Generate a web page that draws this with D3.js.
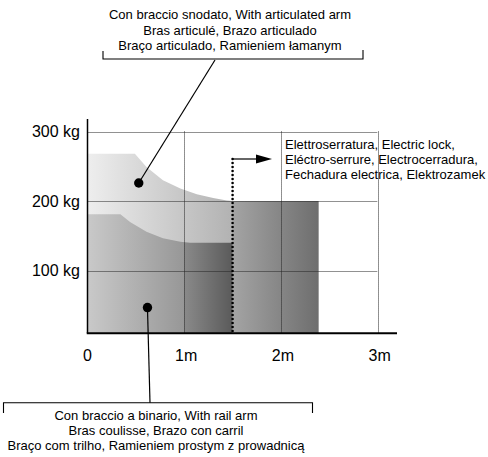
<!DOCTYPE html>
<html>
<head>
<meta charset="utf-8">
<script src="https://cdn.jsdelivr.net/npm/d3@7/dist/d3.min.js"></script>
<style>
  html, body { margin: 0; padding: 0; background: #fff; }
  svg { display: block; }
  text { font-family: "Liberation Sans", Arial, sans-serif; fill: #000; }
</style>
</head>
<body>
<svg id="chart" width="488" height="457"></svg>
<script>
// ---- data ----
const xTicks = [0, 1, 2, 3];
const xTickLabels = ["0", "1m", "2m", "3m"];
const yTicks = [100, 200, 300];
const yTickLabels = ["100 kg", "200 kg", "300 kg"];

// articulated arm envelope (metres, kg)
const articulatedX  = [0, 0.49, 0.61, 0.78, 0.96, 1.13, 1.30, 1.44, 1.5];
const articulatedKg = [268, 268, 249, 230, 218, 210, 204.5, 201, 200];

// rail arm envelope (metres, kg)
const railX  = [0, 0.34, 0.44, 0.61, 0.78, 0.96, 1.06, 1.5];
const railKg = [181, 181, 170, 156, 146.5, 141.7, 140.2, 140];

// electric lock zone
const lockX  = [1.5, 2.39];
const lockKg = [200, 200];

// annotation anchor points (metres, kg)
const articulatedDot = [0.53, 226];
const railDot = [0.62, 47];

const topLabel = ["Con braccio snodato, With articulated arm",
                  "Bras articulé, Brazo articulado",
                  "Braço articulado, Ramieniem łamanym"];
const bottomLabel = ["Con braccio a binario, With rail arm",
                     "Bras coulisse, Brazo con carril",
                     "Braço com trilho, Ramieniem prostym z prowadnicą"];
const lockLabel = ["Elettroserratura, Electric lock,",
                   "Eléctro-serrure, Electrocerradura,",
                   "Fechadura electrica, Elektrozamek"];

// ---- scales ----
const x = d3.scaleLinear().domain([0, 3.2]).range([87.5, 397]);
const y = d3.scaleLinear().domain([10, 318]).range([333.3, 119]);
const yBase = y.domain()[0];

const svg = d3.select("#chart");
const defs = svg.append("defs");

function hGrad(id, stops) {
  const g = defs.append("linearGradient").attr("id", id)
    .attr("x1", "0%").attr("x2", "100%").attr("y1", "0%").attr("y2", "0%");
  stops.forEach(s => g.append("stop").attr("offset", s[0]).attr("stop-color", s[1]));
}
hGrad("gLight", [["0%", "#eeeeee"], ["100%", "#b2b2b2"]]);
hGrad("gRail", [["0%", "#c9c9c9"], ["66.6%", "#979797"], ["66.6%", "#8a8a8a"], ["100%", "#5a5a5a"]]);
hGrad("gLock", [["0%", "#a4a4a4"], ["100%", "#6e6e6e"]]);

const area = d3.area()
  .x(d => x(d[0])).y0(y(yBase)).y1(d => y(d[1]))
  .curve(d3.curveLinear);

svg.append("path").datum(d3.zip(articulatedX, articulatedKg))
  .attr("d", area).attr("fill", "url(#gLight)");
svg.append("path").datum(d3.zip(railX, railKg))
  .attr("d", area).attr("fill", "url(#gRail)");
svg.append("path").datum(d3.zip(lockX, lockKg))
  .attr("d", area).attr("fill", "url(#gLock)");

// ---- grid ----
const grid = svg.append("g").attr("stroke", "#222").attr("stroke-width", 1)
  .attr("stroke-dasharray", "1,1").attr("fill", "none");
yTicks.forEach(v => grid.append("line")
  .attr("x1", x(0)).attr("x2", x(3)).attr("y1", Math.round(y(v)) + 0.5).attr("y2", Math.round(y(v)) + 0.5));
xTicks.slice(1).forEach(v => grid.append("line")
  .attr("x1", Math.round(x(v)) + 0.5).attr("x2", Math.round(x(v)) + 0.5).attr("y1", y(300)).attr("y2", y(yBase)));

// ---- axes ----
svg.append("line").attr("x1", x(0)).attr("x2", x(0)).attr("y1", y(318)).attr("y2", y(yBase))
  .attr("stroke", "#000").attr("stroke-width", 1.5);
svg.append("line").attr("x1", x(0) - 0.75).attr("x2", x(3.2)).attr("y1", y(yBase)).attr("y2", y(yBase))
  .attr("stroke", "#000").attr("stroke-width", 2);

svg.append("g").selectAll("text").data(yTicks).join("text")
  .attr("x", 80).attr("y", d => y(d)).attr("dy", "0.36em")
  .attr("text-anchor", "end").attr("font-size", 16)
  .text((d, i) => yTickLabels[i]);
svg.append("g").selectAll("text").data(xTicks).join("text")
  .attr("x", d => x(d) + (d === 0 ? 0 : 2)).attr("y", 361)
  .attr("text-anchor", "middle").attr("font-size", 16)
  .text((d, i) => xTickLabels[i]);

// ---- electric lock marker ----
svg.append("line").attr("x1", x(lockX[0])).attr("x2", x(lockX[0]))
  .attr("y1", 159).attr("y2", y(yBase))
  .attr("stroke", "#000").attr("stroke-width", 2.6)
  .attr("stroke-linecap", "round").attr("stroke-dasharray", "0,4");
svg.append("line").attr("x1", x(lockX[0])).attr("x2", 258)
  .attr("y1", 159).attr("y2", 159).attr("stroke", "#000").attr("stroke-width", 1.2);
svg.append("path").attr("d", "M256,154.5 L272,159 L256,163.5 Z").attr("fill", "#000");

svg.append("g").selectAll("text").data(lockLabel).join("text")
  .attr("x", 285).attr("y", (d, i) => 149.3 + i * 14.8)
  .attr("font-size", 13).text(d => d);

// ---- annotations ----
const ad = [x(articulatedDot[0]), y(articulatedDot[1])];
const rd = [x(railDot[0]), y(railDot[1])];

svg.append("line").attr("x1", 215).attr("y1", 60).attr("x2", ad[0]).attr("y2", ad[1])
  .attr("stroke", "#000").attr("stroke-width", 1.2);
svg.append("circle").attr("cx", ad[0]).attr("cy", ad[1]).attr("r", 4.7).attr("fill", "#000");

svg.append("path").attr("d", "M103,51 L103,59 L363,59 L363,50")
  .attr("fill", "none").attr("stroke", "#000").attr("stroke-width", 1.1);
svg.append("g").selectAll("text").data(topLabel).join("text")
  .attr("x", 230).attr("y", (d, i) => 19 + i * 15.5)
  .attr("text-anchor", "middle").attr("font-size", 13).text(d => d);

svg.append("line").attr("x1", rd[0]).attr("y1", rd[1]).attr("x2", 150).attr("y2", 402.7)
  .attr("stroke", "#000").attr("stroke-width", 1.2);
svg.append("circle").attr("cx", rd[0]).attr("cy", rd[1]).attr("r", 4.7).attr("fill", "#000");

svg.append("path").attr("d", "M3.5,413 L3.5,402.7 L312.5,402.7 L312.5,413")
  .attr("fill", "none").attr("stroke", "#000").attr("stroke-width", 1.1);
svg.append("g").selectAll("text").data(bottomLabel).join("text")
  .attr("x", 156).attr("y", (d, i) => 420 + i * 15)
  .attr("text-anchor", "middle").attr("font-size", 13).text(d => d);
</script>
</body>
</html>
